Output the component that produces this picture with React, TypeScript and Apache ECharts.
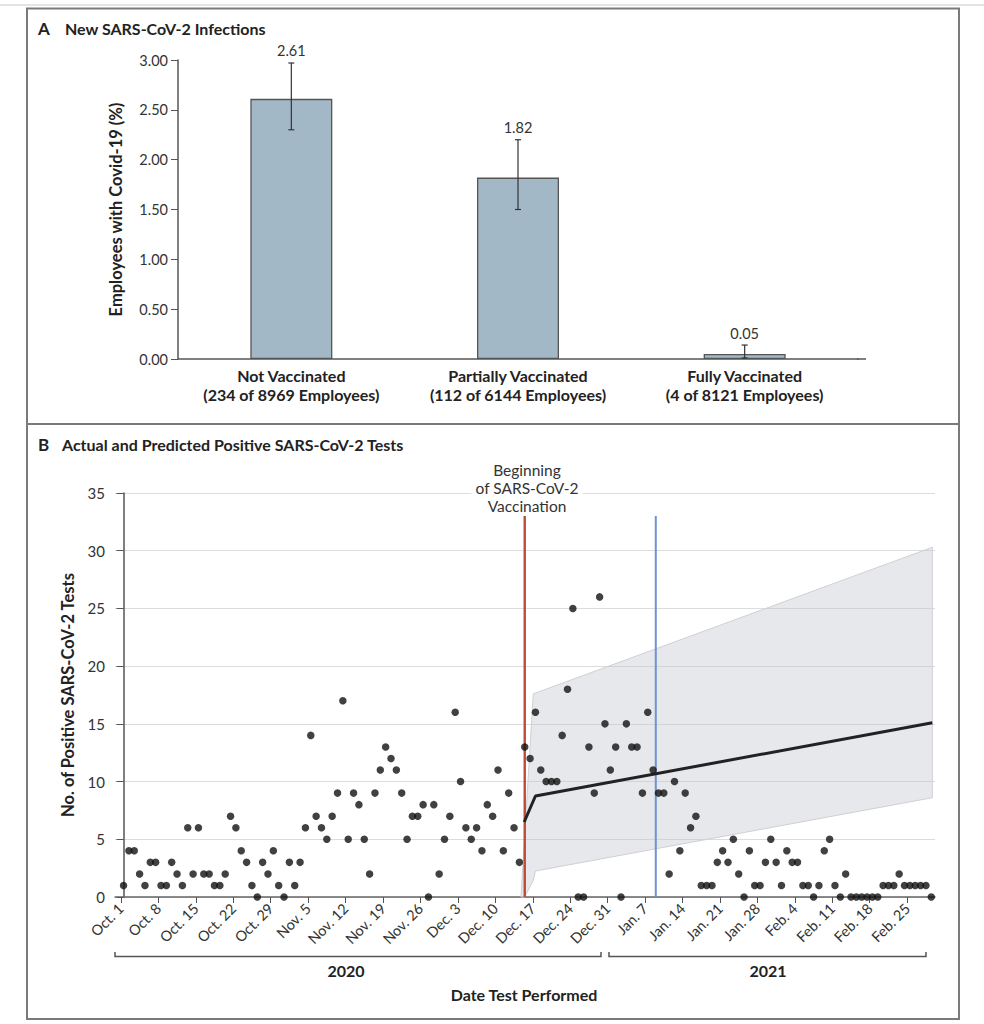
import React, { useEffect, useRef } from "react";
import * as echarts from "echarts";

// ---------- Panel A data ----------
const groupLabels = [
  "Not Vaccinated\n(234 of 8969 Employees)",
  "Partially Vaccinated\n(112 of 6144 Employees)",
  "Fully Vaccinated\n(4 of 8121 Employees)",
];
const infectionPct = [2.61, 1.82, 0.05];
const ciLow = [2.3, 1.5, 0.01];
const ciHigh = [2.97, 2.2, 0.14];

// ---------- Panel B data (daily counts from Oct. 1, 2020) ----------
const octCounts = [1, 4, 4, 2, 1, 3, 3, 1, 1, 3, 2, 1, 6, 2, 6, 2, 2, 1, 1, 2, 7, 6, 4, 3, 1, 0, 3, 2, 4, 1, 0];
const novCounts = [3, 1, 3, 6, 14, 7, 6, 5, 7, 9, 17, 5, 9, 8, 5, 2, 9, 11, 13, 12, 11, 9, 5, 7, 7, 8, 0, 8, 2, 5];
const decCounts = [7, 16, 10, 6, 5, 6, 4, 8, 7, 11, 4, 9, 6, 3, 13, 12, 16, 11, 10, 10, 10, 14, 18, 25, 0, 0, 13, 9, 26, 15, 11];
const janCounts = [13, 0, 15, 13, 13, 9, 16, 11, 9, 9, 2, 10, 4, 9, 6, 7, 1, 1, 1, 3, 4, 3, 5, 2, 0, 4, 1, 1, 3, 5, 3];
const febCounts = [1, 4, 3, 3, 1, 1, 0, 1, 4, 5, 1, 0, 2, 0, 0, 0, 0, 0, 0, 1, 1, 1, 2, 1, 1, 1, 1, 1];
const marCounts = [0];

const dateTickLabels = [
  "Oct. 1", "Oct. 8", "Oct. 15", "Oct. 22", "Oct. 29", "Nov. 5", "Nov. 12", "Nov. 19",
  "Nov. 26", "Dec. 3", "Dec. 10", "Dec. 17", "Dec. 24", "Dec. 31", "Jan. 7", "Jan. 14",
  "Jan. 21", "Jan. 28", "Feb. 4", "Feb. 11", "Feb. 18", "Feb. 25",
];

// predicted line (day index, value)
const predDays = [74.9, 77.0, 151.2];
const predValues = [6.5, 8.75, 15.1];
// prediction band
const bandUpperDays = [74.3, 76.6, 151.2];
const bandUpperValues = [0, 17.6, 30.3];
const bandLowerDays = [75.0, 76.6, 77.0, 151.2];
const bandLowerValues = [0, 1.45, 2.25, 8.6];

const vaccinationStartDay = 75.0;
const secondMarkerDay = 99.5;
const markerTop = 33;

const FONT = "Lato, 'Open Sans', sans-serif";

export default function App() {
  const ref = useRef<HTMLDivElement>(null);

  useEffect(() => {
    if (!ref.current) return;
    const chart = echarts.init(ref.current, undefined, { renderer: "svg" });

    const counts = [...octCounts, ...novCounts, ...decCounts, ...janCounts, ...febCounts, ...marCounts];
    const dots = counts.map((c, i) => [i, c]);
    const tickValues = dateTickLabels.map((_, i) => i * 7 - 0.5);

    const axisLineStyle = { color: "#555", width: 1.5 };

    const option: any = {
      animation: false,
      textStyle: { fontFamily: FONT },
      grid: [
        { left: 178, top: 60, width: 680, height: 299 },
        { left: 115, top: 493, width: 820, height: 404 },
      ],
      xAxis: [
        {
          type: "category",
          gridIndex: 0,
          data: groupLabels,
          axisLine: { lineStyle: axisLineStyle },
          axisTick: { show: false },
          axisLabel: {
            interval: 0,
            fontFamily: FONT,
            fontWeight: "bold",
            fontSize: 16,
            lineHeight: 19,
            color: "#222",
            margin: 7,
          },
        },
        {
          type: "value",
          gridIndex: 1,
          min: -1.6,
          max: 151.7,
          splitLine: { show: false },
          axisLine: { onZero: false, lineStyle: { color: "#666", width: 1.5 } },
          axisTick: { show: true, length: 6, lineStyle: { color: "#555" }, customValues: tickValues },
          axisLabel: {
            customValues: tickValues,
            rotate: 45,
            fontFamily: FONT,
            fontSize: 14.5,
            color: "#333",
            margin: 9,
            formatter: (v: number) => dateTickLabels[Math.round((v + 0.5) / 7)] ?? "",
          },
        },
      ],
      yAxis: [
        {
          type: "value",
          gridIndex: 0,
          min: 0,
          max: 3,
          interval: 0.5,
          name: "Employees with Covid-19 (%)",
          nameLocation: "middle",
          nameGap: 54,
          nameTextStyle: { fontFamily: FONT, fontWeight: "bold", fontSize: 16.5, color: "#222" },
          splitLine: { show: false },
          axisLine: { show: true, lineStyle: axisLineStyle },
          axisTick: { show: true, length: 7, lineStyle: { color: "#555" } },
          axisLabel: {
            fontFamily: FONT,
            fontSize: 14.5,
            color: "#333",
            margin: 10,
            formatter: (v: number) => v.toFixed(2),
          },
        },
        {
          type: "value",
          gridIndex: 1,
          min: 0,
          max: 35,
          interval: 5,
          name: "No. of Positive SARS-CoV-2 Tests",
          nameLocation: "middle",
          nameGap: 36,
          nameTextStyle: { fontFamily: FONT, fontWeight: "bold", fontSize: 16.5, color: "#222" },
          splitLine: { show: true, lineStyle: { color: "#dcdcdc", width: 1.2 } },
          axisLine: { show: true, lineStyle: axisLineStyle },
          axisTick: { show: true, length: 7, lineStyle: { color: "#555" } },
          axisLabel: { fontFamily: FONT, fontSize: 15, color: "#333", margin: 10 },
        },
      ],
      series: [
        {
          type: "bar",
          xAxisIndex: 0,
          yAxisIndex: 0,
          data: infectionPct,
          barWidth: 82,
          itemStyle: { color: "#a3b8c6", borderColor: "#555", borderWidth: 1.3 },
          z: 2,
        },
        {
          type: "custom",
          xAxisIndex: 0,
          yAxisIndex: 0,
          data: infectionPct.map((v, i) => [i, ciLow[i], ciHigh[i], v]),
          encode: { x: 0, y: [1, 2] },
          z: 5,
          renderItem: (_p: any, api: any) => {
            const idx = api.value(0);
            const lo = api.coord([idx, api.value(1)]);
            const hi = api.coord([idx, api.value(2)]);
            const cap = 3;
            const st = { stroke: "#333", lineWidth: 1.2 };
            return {
              type: "group",
              children: [
                { type: "line", shape: { x1: lo[0], y1: lo[1], x2: hi[0], y2: hi[1] }, style: st },
                { type: "line", shape: { x1: hi[0] - cap, y1: hi[1], x2: hi[0] + cap, y2: hi[1] }, style: st },
                { type: "line", shape: { x1: lo[0] - cap, y1: lo[1], x2: lo[0] + cap, y2: lo[1] }, style: st },
                {
                  type: "text",
                  x: hi[0],
                  y: hi[1] - 12,
                  style: {
                    text: Number(api.value(3)).toFixed(2),
                    align: "center",
                    verticalAlign: "middle",
                    fill: "#333",
                    font: `14.5px ${FONT}`,
                  },
                },
              ],
            };
          },
        },
        {
          type: "custom",
          xAxisIndex: 1,
          yAxisIndex: 1,
          data: [[100, 10]],
          encode: { x: 0, y: 1 },
          z: 1,
          clip: false,
          renderItem: (_p: any, api: any) => {
            const pts: number[][] = [];
            bandUpperDays.forEach((d, i) => pts.push(api.coord([d, bandUpperValues[i]])));
            for (let i = bandLowerDays.length - 1; i >= 0; i--) {
              pts.push(api.coord([bandLowerDays[i], bandLowerValues[i]]));
            }
            return {
              type: "polygon",
              shape: { points: pts },
              style: { fill: "rgba(196,198,206,0.4)", stroke: "#cfd0d4", lineWidth: 1 },
            };
          },
        },
        {
          type: "line",
          xAxisIndex: 1,
          yAxisIndex: 1,
          data: [[vaccinationStartDay, 0], [vaccinationStartDay, markerTop]],
          symbol: "none",
          lineStyle: { color: "#bf4a35", width: 2.4 },
          z: 2,
        },
        {
          type: "line",
          xAxisIndex: 1,
          yAxisIndex: 1,
          data: [[secondMarkerDay, 0], [secondMarkerDay, markerTop]],
          symbol: "none",
          lineStyle: { color: "#6f93d2", width: 2 },
          z: 2,
        },
        {
          type: "line",
          xAxisIndex: 1,
          yAxisIndex: 1,
          data: predDays.map((d, i) => [d, predValues[i]]),
          symbol: "none",
          lineStyle: { color: "#222", width: 3 },
          z: 3,
        },
        {
          type: "scatter",
          xAxisIndex: 1,
          yAxisIndex: 1,
          data: dots,
          symbolSize: 7.5,
          itemStyle: { color: "#111" },
          z: 4,
        },
      ],
      graphic: [
        // outer frame
        { type: "line", shape: { x1: 0, y1: 5, x2: 984, y2: 5 }, style: { stroke: "#e4e4e4", lineWidth: 2 } },
        { type: "rect", shape: { x: 27, y: 8.5, width: 932, height: 1010.5 }, style: { fill: "none", stroke: "#7a7a7a", lineWidth: 2 } },
        { type: "line", shape: { x1: 27, y1: 424, x2: 959, y2: 424 }, style: { stroke: "#7a7a7a", lineWidth: 2 } },
        // x-axis extension panel A
        { type: "line", shape: { x1: 857, y1: 359, x2: 866, y2: 359 }, style: { stroke: "#555", lineWidth: 1.5 } },
        // panel titles
        { type: "text", x: 38, y: 28, style: { text: "A", font: `bold 17px ${FONT}`, fill: "#222", verticalAlign: "middle" } },
        { type: "text", x: 65, y: 28, style: { text: "New SARS-CoV-2 Infections", font: `bold 16px ${FONT}`, fill: "#222", verticalAlign: "middle" } },
        { type: "text", x: 38, y: 444, style: { text: "B", font: `bold 17px ${FONT}`, fill: "#222", verticalAlign: "middle" } },
        { type: "text", x: 62, y: 444, style: { text: "Actual and Predicted Positive SARS-CoV-2 Tests", font: `bold 16px ${FONT}`, fill: "#222", verticalAlign: "middle" } },
        // vaccination annotation
        {
          type: "text",
          x: 527,
          y: 461,
          z: 10,
          style: {
            text: "Beginning\nof SARS-CoV-2\nVaccination",
            font: `15.5px ${FONT}`,
            fill: "#333",
            align: "center",
            verticalAlign: "top",
            lineHeight: 18,
            backgroundColor: "#fff",
            padding: [0, 4],
          },
        },
        // year brackets
        { type: "polyline", shape: { points: [[115, 952], [115, 956.5], [601, 956.5], [601, 952]] }, style: { stroke: "#555", lineWidth: 1.5, fill: "none" } },
        { type: "polyline", shape: { points: [[609, 952], [609, 956.5], [926, 956.5], [926, 952]] }, style: { stroke: "#555", lineWidth: 1.5, fill: "none" } },
        { type: "text", x: 346, y: 970, style: { text: "2020", font: `bold 16px ${FONT}`, fill: "#222", align: "center", verticalAlign: "middle" } },
        { type: "text", x: 768, y: 970, style: { text: "2021", font: `bold 16px ${FONT}`, fill: "#222", align: "center", verticalAlign: "middle" } },
        { type: "text", x: 524, y: 994, style: { text: "Date Test Performed", font: `bold 16px ${FONT}`, fill: "#222", align: "center", verticalAlign: "middle" } },
      ],
    };

    chart.setOption(option);
    return () => chart.dispose();
  }, []);

  return (
    <div
      ref={ref}
      style={{ position: "absolute", left: 0, top: 0, width: 984, height: 1024, background: "#fff" }}
    />
  );
}
